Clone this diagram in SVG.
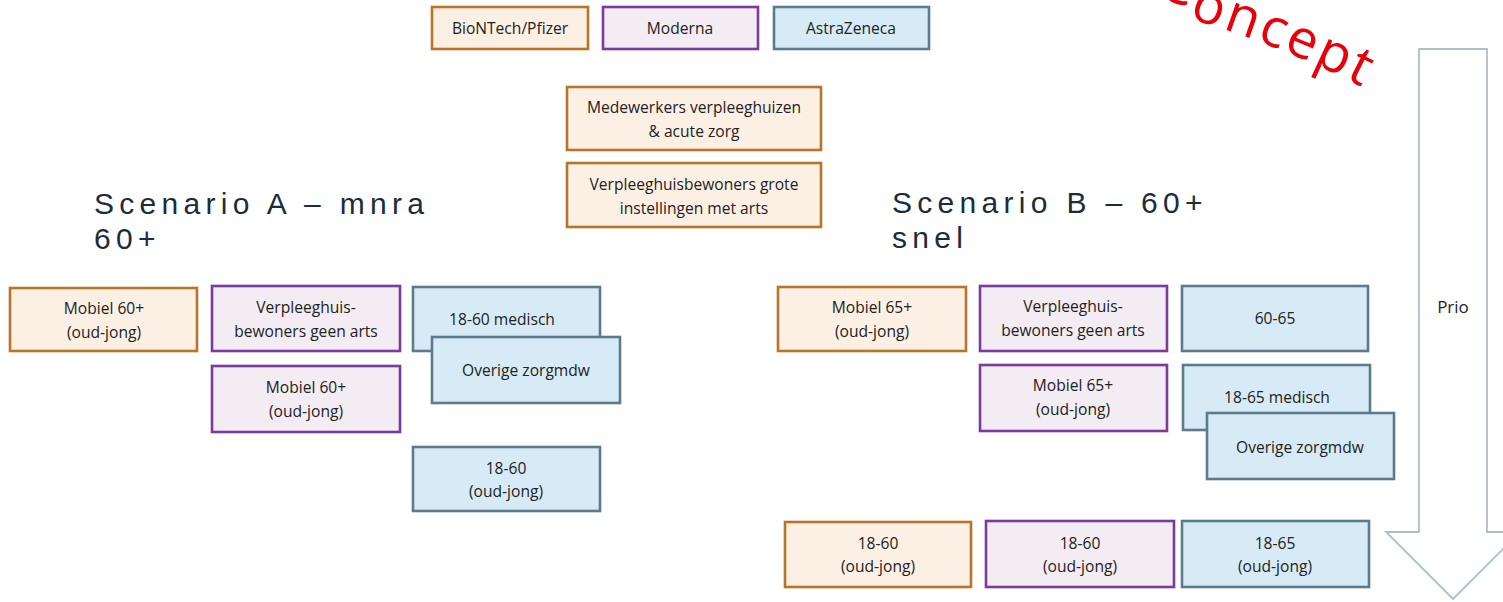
<svg xmlns="http://www.w3.org/2000/svg" width="1503" height="602" viewBox="0 0 1503 602">
<defs>
<style>
.o{fill:#fcf0e5;stroke:#b8742a;stroke-width:2.6}
.p{fill:#f3ecf3;stroke:#7b3a9e;stroke-width:2.6}
.b{fill:#d7ebf6;stroke:#5e7b8c;stroke-width:2.6}
.t{font-family:"Open Sans","Noto Sans",sans-serif;font-size:15.6px;fill:#222;text-anchor:middle}
.h{font-family:"Liberation Sans",Arial,sans-serif;font-size:30px;fill:#1d2b3a;letter-spacing:5.3px}
</style>
<path id="arc" d="M1140,5 Q1300,45 1420,120"/>
</defs>
<rect width="1503" height="602" fill="#fff"/>

<g id="concept">
<text font-family="Open Sans,Noto Sans,sans-serif" font-size="54" fill="#e8000b" letter-spacing="2.5"><textPath href="#arc" startOffset="14"><tspan dy="-11">C</tspan><tspan dy="11">oncept</tspan></textPath></text>
</g>

<g id="legend-biontech"><rect class="o" x="432" y="7" width="156" height="42"/><text class="t" x="510" y="34">BioNTech/Pfizer</text></g>
<g id="legend-moderna"><rect class="p" x="603" y="7" width="155" height="42"/><text class="t" x="680" y="34">Moderna</text></g>
<g id="legend-astrazeneca"><rect class="b" x="774" y="7" width="155" height="42"/><text class="t" x="851" y="34">AstraZeneca</text></g>

<g id="medewerkers"><rect class="o" x="567" y="87" width="254" height="63"/><text class="t" x="694" y="113">Medewerkers verpleeghuizen</text><text class="t" x="694" y="137">&amp; acute zorg</text></g>
<g id="verpleeghuisbewoners-grote"><rect class="o" x="567" y="163" width="254" height="64"/><text class="t" x="694" y="190">Verpleeghuisbewoners grote</text><text class="t" x="694" y="214">instellingen met arts</text></g>

<g id="title-a"><text class="h" x="94" y="214">Scenario A – mnra</text><text class="h" x="94" y="249">60+</text></g>
<g id="title-b"><text class="h" x="892" y="213">Scenario B – 60+</text><text class="h" x="892" y="248">snel</text></g>

<g id="a-mobiel-oranje"><rect class="o" x="10" y="288" width="187" height="63"/><text class="t" x="104" y="314">Mobiel 60+</text><text class="t" x="104" y="338">(oud-jong)</text></g>
<g id="a-verpleeghuis"><rect class="p" x="212" y="286" width="188" height="65"/><text class="t" x="306" y="313">Verpleeghuis-</text><text class="t" x="306" y="337">bewoners geen arts</text></g>
<g id="a-mobiel-paars"><rect class="p" x="212" y="366" width="188" height="66"/><text class="t" x="306" y="393">Mobiel 60+</text><text class="t" x="306" y="417">(oud-jong)</text></g>
<g id="a-18-60-medisch"><rect class="b" x="413" y="287" width="187" height="64"/><text class="t" x="502" y="325">18-60 medisch</text></g>
<g id="a-overige"><rect class="b" x="432" y="337" width="188" height="66"/><text class="t" x="526" y="376">Overige zorgmdw</text></g>
<g id="a-18-60"><rect class="b" x="413" y="447" width="187" height="64"/><text class="t" x="506" y="474">18-60</text><text class="t" x="506" y="497">(oud-jong)</text></g>

<g id="b-mobiel-oranje"><rect class="o" x="778" y="287" width="188" height="64"/><text class="t" x="872" y="313">Mobiel 65+</text><text class="t" x="872" y="337">(oud-jong)</text></g>
<g id="b-verpleeghuis"><rect class="p" x="980" y="286" width="187" height="65"/><text class="t" x="1073" y="312">Verpleeghuis-</text><text class="t" x="1073" y="336">bewoners geen arts</text></g>
<g id="b-60-65"><rect class="b" x="1182" y="286" width="186" height="65"/><text class="t" x="1275" y="324">60-65</text></g>
<g id="b-mobiel-paars"><rect class="p" x="980" y="365" width="187" height="66"/><text class="t" x="1073" y="391">Mobiel 65+</text><text class="t" x="1073" y="415">(oud-jong)</text></g>
<g id="b-18-65-medisch"><rect class="b" x="1183" y="365" width="187" height="65"/><text class="t" x="1277" y="403">18-65 medisch</text></g>
<g id="b-overige"><rect class="b" x="1207" y="413" width="187" height="66"/><text class="t" x="1300" y="453">Overige zorgmdw</text></g>
<g id="b-18-60-oranje"><rect class="o" x="785" y="522" width="186" height="65"/><text class="t" x="878" y="549">18-60</text><text class="t" x="878" y="572">(oud-jong)</text></g>
<g id="b-18-60-paars"><rect class="p" x="986" y="521" width="188" height="66"/><text class="t" x="1080" y="549">18-60</text><text class="t" x="1080" y="572">(oud-jong)</text></g>
<g id="b-18-65"><rect class="b" x="1182" y="521" width="187" height="66"/><text class="t" x="1275" y="549">18-65</text><text class="t" x="1275" y="572">(oud-jong)</text></g>

<g id="prio">
<path d="M1419,49 H1487 V532 H1520 L1453,599 L1386,532 H1419 Z" fill="#fff" stroke="#a9c0c8" stroke-width="1.8"/>
<text x="1453" y="313" font-family="Open Sans,Noto Sans,sans-serif" font-size="17" fill="#222" text-anchor="middle">Prio</text>
</g>
</svg>
